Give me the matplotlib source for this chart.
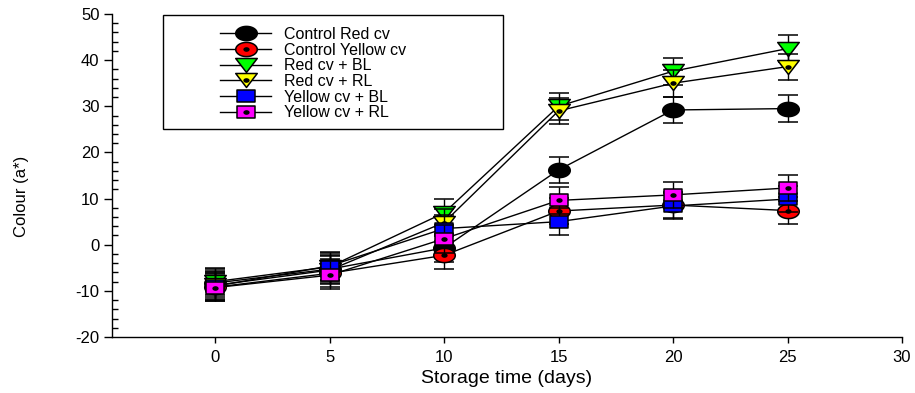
import numpy as np
import matplotlib
matplotlib.use('Agg')
import matplotlib.pyplot as plt
from matplotlib.path import Path
from matplotlib.lines import Line2D
from matplotlib.patches import Rectangle
from matplotlib.ticker import MultipleLocator

plt.rcParams['font.family'] = ['Liberation Sans', 'DejaVu Sans']
plt.rcParams['axes.unicode_minus'] = False

# storage time (days) and colour a* means / errors
days = [0, 5, 10, 15, 20, 25]
ctrl_red = [-8.3, -5.3, -0.7, 16.2, 29.2, 29.5]
ctrl_yellow = [-9.2, -6.2, -2.3, 7.3, 8.6, 7.4]
red_bl = [-8.0, -4.8, 6.9, 30.0, 37.6, 42.5]
red_rl = [-8.8, -5.5, 4.8, 29.0, 35.0, 38.6]
yellow_bl = [-9.0, -4.6, 3.5, 5.0, 8.4, 9.9]
yellow_rl = [-9.3, -6.6, 1.3, 9.6, 10.8, 12.3]

err_ctrl_red = [3.0, 3.0, 3.0, 2.9, 2.8, 2.9]
err_ctrl_yellow = [3.0, 3.0, 3.0, 2.9, 2.9, 2.9]
err_red_bl = [3.0, 3.0, 3.1, 2.9, 2.9, 3.0]
err_red_rl = [3.0, 3.0, 3.0, 2.9, 2.9, 2.8]
err_yellow_bl = [3.0, 3.0, 3.0, 2.9, 2.9, 2.8]
err_yellow_rl = [3.0, 3.0, 3.0, 2.9, 2.8, 2.9]

labels = ['Control Red cv', 'Control Yellow cv', 'Red cv + BL',
          'Red cv + RL', 'Yellow cv + BL', 'Yellow cv + RL']


# SigmaPlot-like flattened markers
def ellipse(h=0.66, n=60):
    t = np.linspace(0, 2 * np.pi, n)
    return Path(np.column_stack([np.cos(t), h * np.sin(t)]), closed=True)


tri_down = Path([(-1, 0.65), (1, 0.65), (0, -0.65), (-1, 0.65)], closed=True)
square = Path([(-1, -0.64), (1, -0.64), (1, 0.64), (-1, 0.64), (-1, -0.64)], closed=True)
circle = ellipse()
dot = ellipse()

series = [
    (ctrl_red, err_ctrl_red, circle, 'black', False, 15.5),
    (ctrl_yellow, err_ctrl_yellow, circle, '#ff0000', True, 15.5),
    (red_bl, err_red_bl, tri_down, '#00ff00', False, 15.5),
    (red_rl, err_red_rl, tri_down, '#ffff00', True, 15.5),
    (yellow_bl, err_yellow_bl, square, '#0000ff', False, 13.2),
    (yellow_rl, err_yellow_rl, square, '#ff00ff', True, 13.2),
]

fig = plt.figure(figsize=(9.15, 3.93), dpi=100)
ax = fig.add_axes([112 / 915, 1 - 337 / 393, 790 / 915, 323 / 393])

handles = []
for i, (vals, err, mk, col, has_dot, ms) in enumerate(series):
    eb = ax.errorbar(days, vals, yerr=err, color='black', lw=1,
                     marker=mk, ms=ms, mfc=col, mec='black', mew=1.1,
                     ecolor='black', elinewidth=1, capsize=7.5, capthick=1,
                     zorder=3 + i)
    for cap in eb[1]:
        cap.set_color('0.4')
    h = Line2D([], [], color='black', lw=1, marker=mk, ms=ms,
               mfc=col, mec='black', mew=1.1)
    if has_dot:
        ax.plot(days, vals, ls='none', marker=dot, ms=3.5, color='black',
                zorder=3.5 + i)
        h = (h, Line2D([], [], ls='none', marker=dot, ms=3.5, color='black'))
    handles.append(h)

ax.set_xlim(-4.5, 30)
ax.set_ylim(-20, 50)
ax.set_xticks(range(0, 31, 5))
ax.set_yticks(range(-20, 51, 10))
ax.yaxis.set_minor_locator(MultipleLocator(2))
ax.tick_params(axis='y', which='major', direction='out', length=6, width=1,
               labelsize=12, pad=3)
ax.tick_params(axis='y', which='minor', direction='in', length=4.5, width=1)
ax.tick_params(axis='x', which='major', direction='out', length=4, width=1,
               labelsize=12, pad=5)
for s in ['top', 'right']:
    ax.spines[s].set_visible(False)
for s in ['left', 'bottom']:
    ax.spines[s].set_linewidth(1)

ax.set_xlabel('Storage time (days)', fontsize=14, labelpad=4)
ax.set_ylabel('Colour (a*)', fontsize=12)
ax.yaxis.set_label_coords(-0.105, 0.436)

ax.legend(handles, labels, loc='upper left',
          bbox_to_anchor=(220 / 915, 1 - 27 / 393),
          bbox_transform=fig.transFigure, frameon=False, borderpad=0,
          borderaxespad=0, handlelength=3.2, handletextpad=0.8,
          labelspacing=0.04, fontsize=11.5, numpoints=1)
fig.add_artist(Rectangle((163 / 915, 1 - 129 / 393), 340 / 915, 114 / 393,
                         transform=fig.transFigure, fill=False,
                         ec='black', lw=1))

fig.savefig('out.png', dpi=100)
